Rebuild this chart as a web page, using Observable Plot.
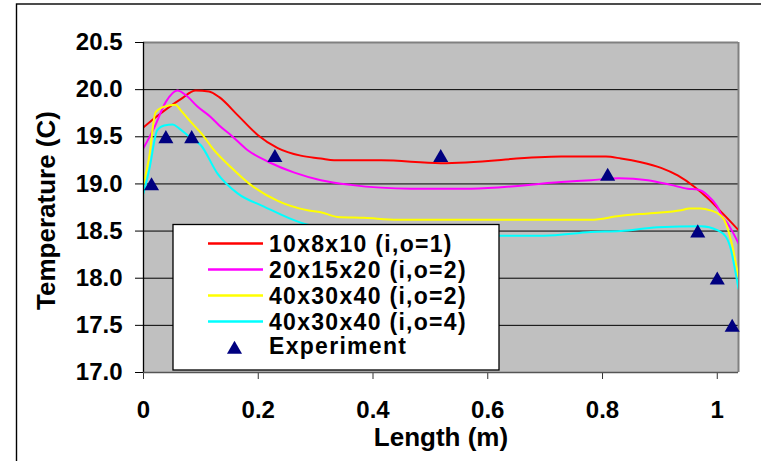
<!DOCTYPE html>
<html>
<head>
<meta charset="utf-8">
<script src="https://cdn.jsdelivr.net/npm/d3@7"></script>
<script src="https://cdn.jsdelivr.net/npm/@observablehq/plot@0.6"></script>
<style>
  html, body { margin: 0; padding: 0; background: #fff; }
  #chart { width: 761px; height: 461px; overflow: hidden; }
</style>
</head>
<body>
<div id="chart"></div>
<script>
// ---- data ----
const seriesNames = ["10x8x10 (i,o=1)", "20x15x20 (i,o=2)", "40x30x40 (i,o=2)", "40x30x40 (i,o=4)"];
const seriesColors = ["#ff0000", "#ff00ff", "#ffff00", "#00ffff"];

const redX = [0, 0.024, 0.065, 0.091, 0.114, 0.132, 0.164, 0.199, 0.234, 0.274, 0.309, 0.332, 0.414, 0.518, 0.728, 0.806, 0.832, 0.867, 0.902, 0.931, 0.96, 0.983, 1.009, 1.037];
const redY = [19.6, 19.72, 19.9, 19.99, 19.98, 19.92, 19.73, 19.52, 19.38, 19.3, 19.27, 19.25, 19.25, 19.22, 19.29, 19.29, 19.27, 19.23, 19.17, 19.09, 18.97, 18.85, 18.69, 18.51];

const magentaX = [0, 0.019, 0.039, 0.059, 0.074, 0.094, 0.117, 0.132, 0.152, 0.181, 0.219, 0.263, 0.309, 0.361, 0.466, 0.571, 0.728, 0.78, 0.829, 0.879, 0.919, 0.948, 0.966, 0.983, 1.0, 1.009, 1.018, 1.037];
const magentaY = [19.38, 19.6, 19.87, 19.99, 19.94, 19.82, 19.71, 19.62, 19.52, 19.36, 19.23, 19.12, 19.04, 18.99, 18.95, 18.95, 19.02, 19.04, 19.06, 19.04, 18.99, 18.95, 18.94, 18.88, 18.76, 18.65, 18.58, 18.37];

const yellowX = [0, 0.01, 0.021, 0.036, 0.056, 0.065, 0.082, 0.103, 0.12, 0.152, 0.187, 0.234, 0.286, 0.309, 0.338, 0.385, 0.443, 0.78, 0.829, 0.884, 0.937, 0.951, 0.971, 0.988, 1.005, 1.012, 1.024, 1.037];
const yellowY = [19.0, 19.29, 19.76, 19.82, 19.84, 19.78, 19.66, 19.52, 19.38, 19.18, 18.99, 18.82, 18.72, 18.7, 18.65, 18.64, 18.62, 18.62, 18.66, 18.69, 18.72, 18.74, 18.74, 18.72, 18.67, 18.62, 18.4, 18.01];

const cyanX = [0, 0.01, 0.024, 0.036, 0.051, 0.062, 0.08, 0.1, 0.129, 0.164, 0.21, 0.274, 0.33, 0.4, 0.47, 0.518, 0.698, 0.78, 0.832, 0.896, 0.972, 1.0, 1.015, 1.024, 1.03, 1.037];
const cyanY = [18.9, 19.15, 19.57, 19.62, 19.63, 19.59, 19.5, 19.41, 19.11, 18.9, 18.76, 18.59, 18.52, 18.47, 18.45, 18.45, 18.45, 18.49, 18.5, 18.54, 18.55, 18.51, 18.44, 18.3, 18.12, 17.89];

const expX = [0.014, 0.039, 0.084, 0.229, 0.518, 0.809, 0.966, 1.0, 1.026];
const expY = [19.0, 19.5, 19.5, 19.3, 19.3, 19.1, 18.5, 18.0, 17.5];
const expName = "Experiment";

const xTicks = [0, 0.2, 0.4, 0.6, 0.8, 1];
const xTickLabels = ["0", "0.2", "0.4", "0.6", "0.8", "1"];
const yTicks = [17.0, 17.5, 18.0, 18.5, 19.0, 19.5, 20.0, 20.5];
const yTickLabels = ["17.0", "17.5", "18.0", "18.5", "19.0", "19.5", "20.0", "20.5"];
const yGridLines = [17.5, 18.0, 18.5, 19.0, 19.5, 20.0];
const xTitle = "Length (m)";
const yTitle = "Temperature (C)";
const xMax = 1.037;

// ---- build tables ----
const seriesXs = [redX, magentaX, yellowX, cyanX];
const seriesYs = [redY, magentaY, yellowY, cyanY];
const lineRows = [];
seriesNames.forEach((name, i) => {
  seriesXs[i].forEach((x, j) => lineRows.push({series: name, x, y: seriesYs[i][j]}));
});
const expRows = expX.map((x, i) => ({x, y: expY[i]}));

const FONT = "Arial, 'Liberation Sans', sans-serif";

const plot = Plot.plot({
  width: 761,
  height: 461,
  marginLeft: 143,
  marginRight: 23,
  marginTop: 42,
  marginBottom: 89,
  style: {fontFamily: FONT, fontWeight: "bold", background: "#fff", color: "#000", overflow: "visible"},
  x: {domain: [0, xMax]},
  y: {domain: [17, 20.5]},
  color: {domain: seriesNames, range: seriesColors},
  marks: [
    Plot.frame({fill: "#c0c0c0", stroke: null}),
    Plot.gridY(yGridLines, {stroke: "#000", strokeOpacity: 1, strokeWidth: 1}),
    Plot.ruleY([20.5], {stroke: "#808080", strokeWidth: 2}),
    Plot.ruleX([xMax], {stroke: "#808080", strokeWidth: 2}),
    Plot.axisX(xTicks, {tickSize: 7, tickPadding: 21, fontSize: 24, label: null, stroke: "#333",
      tickFormat: (d, i) => xTickLabels[i]}),
    Plot.axisY(yTicks, {tickSize: 8, tickPadding: 13, fontSize: 24, label: null, stroke: "#000",
      tickFormat: (d, i) => yTickLabels[i]}),
    Plot.line(lineRows, {x: "x", y: "y", z: "series", stroke: "series", strokeWidth: 2, curve: "monotone-x", clip: true}),
    Plot.dot(expRows, {x: "x", y: "y", symbol: "triangle", r: 5.6, fill: "#000080", stroke: null, dy: 2}),
    Plot.ruleX([0], {stroke: "#000", strokeWidth: 1.3}),
    Plot.ruleY([17], {stroke: "#555", strokeWidth: 1.5}),
    Plot.text([xTitle], {text: d => d, frameAnchor: "bottom", textAnchor: "middle", dy: 65, fontSize: 26, fontWeight: "bold", lineAnchor: "middle"}),
    Plot.text([yTitle], {text: d => d, frameAnchor: "left", textAnchor: "middle", dx: -97, dy: 3, rotate: -90, fontSize: 26, fontWeight: "bold", lineAnchor: "middle"})
  ]
});

// outer chart border and legend
const svg = d3.select(plot);
svg.append("rect")
  .attr("x", 16.5).attr("y", 4).attr("width", 800).attr("height", 500)
  .attr("fill", "none").attr("stroke", "#000").attr("stroke-width", 1.4);

const lg = svg.append("g").attr("font-family", FONT).attr("font-weight", "bold").attr("text-anchor", "start");
lg.append("rect")
  .attr("x", 173).attr("y", 224.5).attr("width", 326).attr("height", 145.5)
  .attr("fill", "#fff").attr("stroke", "#000").attr("stroke-width", 1.3);
const rowY = [243.5, 269.5, 295.5, 321.5];
seriesNames.forEach((name, i) => {
  lg.append("line").attr("x1", 208).attr("x2", 263).attr("y1", rowY[i]).attr("y2", rowY[i])
    .attr("stroke", seriesColors[i]).attr("stroke-width", 2.5);
  lg.append("text").attr("x", 269).attr("y", rowY[i]).attr("dy", "0.36em").attr("text-anchor", "start")
    .attr("font-size", 23).attr("letter-spacing", 1.3).attr("fill", "#000").text(name);
});
lg.append("path")
  .attr("d", d3.symbol(d3.symbolTriangle, 5.6 * 5.6 * Math.PI)())
  .attr("transform", "translate(234.5,349.5)")
  .attr("fill", "#000080");
lg.append("text").attr("x", 269).attr("y", 346).attr("dy", "0.36em").attr("text-anchor", "start")
  .attr("font-size", 23).attr("letter-spacing", 1.3).attr("fill", "#000").text(expName);

document.getElementById("chart").appendChild(plot);
</script>
</body>
</html>
